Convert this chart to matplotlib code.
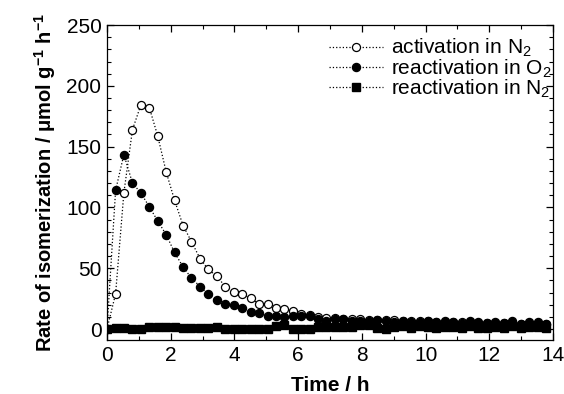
import matplotlib
matplotlib.use("Agg")
import matplotlib.pyplot as plt
from matplotlib.ticker import MultipleLocator

plt.rcParams['font.family'] = ['Liberation Sans', 'DejaVu Sans']
plt.rcParams['mathtext.fontset'] = 'custom'
plt.rcParams['mathtext.rm'] = 'Liberation Sans'
plt.rcParams['mathtext.it'] = 'Liberation Sans:italic'
plt.rcParams['mathtext.bf'] = 'Liberation Sans:bold'

time_h = [0, 0.27, 0.53, 0.8, 1.06, 1.33, 1.59, 1.86, 2.12, 2.39, 2.65, 2.92, 3.18,
          3.45, 3.71, 3.98, 4.24, 4.51, 4.77, 5.04, 5.3, 5.57, 5.83, 6.1, 6.36, 6.63,
          6.89, 7.16, 7.42, 7.69, 7.95, 8.22, 8.48, 8.75, 9.01, 9.28, 9.54, 9.81,
          10.07, 10.34, 10.6, 10.87, 11.13, 11.4, 11.66, 11.93, 12.19, 12.46, 12.72,
          12.99, 13.25, 13.52, 13.78]

activation_N2 = [0, 29, 112, 164, 184, 182, 159, 129, 106, 85, 72, 58, 49, 43.5, 35,
                 30.5, 28.5, 25.5, 20.5, 21, 17.5, 16.8, 14.5, 12.5, 11.5, 10, 9.5, 9,
                 8.5, 8, 8, 7.5, 7.5, 7.2, 7.5, 7, 6.8, 7, 6.5, 6, 6, 5.5, 5.5, 5.5, 5,
                 5, 5, 5, 4.5, 4.5, 4.5, 4, 4]

reactivation_O2 = [0, 114, 143.5, 120, 112, 100.5, 89, 77.5, 63, 51, 42, 35, 28.7, 23.7,
                   20.4, 19.6, 17.4, 13.8, 13.5, 10.5, 11, 10, 10.5, 11, 10.7, 8, 7, 8.3,
                   8.3, 7, 7, 7, 7.7, 6.3, 6, 6.5, 5.5, 6, 6.5, 5.5, 7, 5.5, 5, 6.5, 5.5,
                   5, 6, 5, 6.5, 4.5, 6, 5.5, 4.5]

reactivation_N2 = [0, 0.5, 1, 0, 0.3, 2, 1.5, 2, 1.5, 1.2, 0.5, 1.2, 0.5, 2, 0, 0, 0, 0,
                   0, 0, 2.5, 3, 0, 0, 0.3, 2, 2, 2, 2, 2, 3, 3, 1, 0, 2, 2.5, 1, 2.5, 2,
                   0.5, 2, 1.5, 0.5, 2.5, 1, 0.5, 2, 1, 2.5, 0.5, 2, 1.5, 0.5]

labels = [r'activation in N$_2$', r'reactivation in O$_2$', r'reactivation in N$_2$']

fig = plt.figure(figsize=(5.64, 3.94), dpi=100)
ax = fig.add_axes([0.1897, 0.137, 0.7908, 0.7995])

ax.plot(time_h, activation_N2, linestyle=':', color='black', linewidth=0.9,
        marker='o', markersize=5.8, markerfacecolor='white', markeredgecolor='black',
        markeredgewidth=0.9, label=labels[0], zorder=3)
ax.plot(time_h, reactivation_O2, linestyle=':', color='black', linewidth=0.9,
        marker='o', markersize=5.8, markerfacecolor='black', markeredgecolor='black',
        label=labels[1], zorder=4)
ax.plot(time_h, reactivation_N2, linestyle=':', color='black', linewidth=0.9,
        marker='s', markersize=5.2, markerfacecolor='black', markeredgecolor='black',
        label=labels[2], zorder=5)

ax.set_xlim(0, 14)
ax.set_ylim(-9, 250)
ax.xaxis.set_major_locator(MultipleLocator(2))
ax.xaxis.set_minor_locator(MultipleLocator(1))
ax.yaxis.set_major_locator(MultipleLocator(50))
ax.yaxis.set_minor_locator(MultipleLocator(10))
ax.tick_params(which='both', direction='in', top=True, right=True, labelsize=15)
ax.tick_params(which='major', length=5, width=0.9, pad=4)
ax.tick_params(which='minor', length=3, width=0.8)
for s in ax.spines.values():
    s.set_linewidth(0.9)

ax.set_xlabel('Time / h', fontsize=15, fontweight='bold', labelpad=8)
ax.set_ylabel(r'Rate of isomerization / $\mathbf{\mu}$mol g$^{\mathbf{-1}}$ h$^{\mathbf{-1}}$',
              fontsize=14.5, fontweight='bold', labelpad=6)

ax.legend(loc='upper right', frameon=False, fontsize=15, handlelength=2.6,
          handletextpad=0.4, labelspacing=-0.1, borderaxespad=0.1,
          bbox_to_anchor=(1.02, 0.995))

fig.savefig('out.png', dpi=100)
